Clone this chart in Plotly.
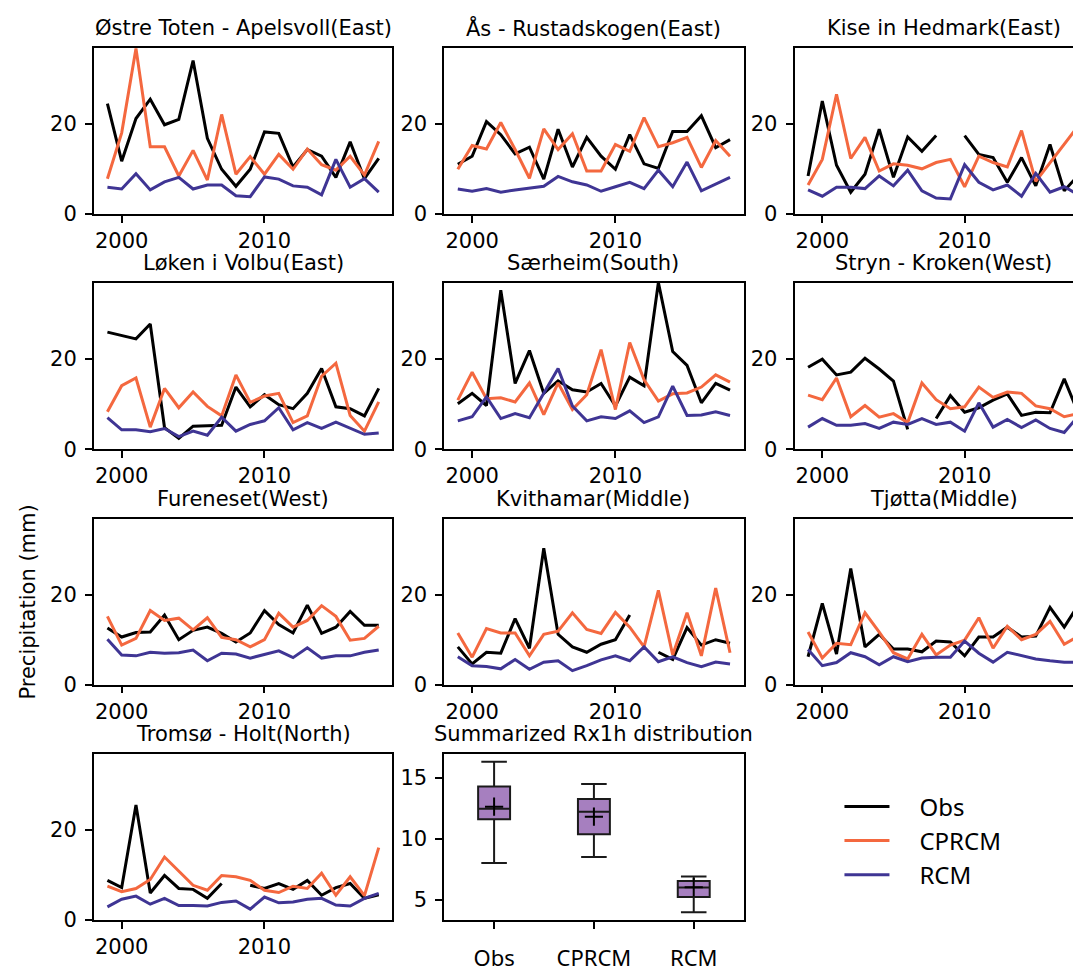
import plotly.graph_objects as go

years = list(range(1999, 2019))
series_names = ["Obs", "CPRCM", "RCM"]
series_colors = ["#000000", "#f4683f", "#3f3594"]

station_titles = [
    "Østre Toten - Apelsvoll(East)", "Ås - Rustadskogen(East)", "Kise in Hedmark(East)",
    "Løken i Volbu(East)", "Særheim(South)", "Stryn - Kroken(West)",
    "Fureneset(West)", "Kvithamar(Middle)", "Tjøtta(Middle)",
    "Tromsø - Holt(North)",
]

obs_apelsvoll = [24.5, 11.7, 21.2, 25.5, 19.8, 21.0, 34.1, 16.8, 9.9, 6.1, 9.9, 18.2, 17.9, 10.4, 14.3, 12.8, 8.1, 16.0, 7.8, 12.3]
cprcm_apelsvoll = [7.8, 18.0, 36.8, 14.9, 14.9, 8.4, 14.1, 7.5, 22.1, 8.8, 12.7, 8.8, 13.2, 9.9, 14.4, 10.9, 9.7, 12.8, 8.6, 16.1]
rcm_apelsvoll = [5.9, 5.5, 8.9, 5.3, 7.1, 8.1, 5.5, 6.4, 6.4, 4.0, 3.8, 8.2, 7.7, 6.2, 5.9, 4.2, 12.1, 5.9, 7.8, 4.8]

obs_rustadskogen = [11.0, 12.8, 20.5, 17.6, 13.3, 14.8, 7.7, 18.8, 10.4, 17.0, 12.8, 9.9, 17.6, 11.1, 10.1, 18.3, 18.3, 21.8, 14.7, 16.5]
cprcm_rustadskogen = [9.9, 15.2, 14.4, 20.3, 14.3, 7.9, 18.9, 14.3, 17.8, 9.5, 9.5, 15.4, 13.9, 21.4, 14.9, 15.8, 17.0, 10.3, 16.3, 12.8]
rcm_rustadskogen = [5.5, 5.0, 5.6, 4.8, 5.3, 5.7, 6.1, 8.3, 7.1, 6.4, 5.0, 6.0, 7.0, 5.6, 9.7, 6.0, 11.5, 5.1, 6.6, 8.1]

obs_kise = [8.4, 25.1, 10.8, 4.8, 8.8, 18.8, 8.1, 17.1, 13.9, 17.4, None, 17.4, 13.2, 12.5, 7.0, 12.5, 6.2, 15.4, 5.1, 8.6]
cprcm_kise = [6.4, 12.1, 26.6, 12.3, 17.0, 9.5, 11.1, 10.8, 10.0, 11.4, 12.1, 6.0, 12.8, 11.4, 10.4, 18.5, 7.2, 11.4, 15.5, 19.6]
rcm_kise = [5.3, 3.9, 5.9, 5.9, 5.6, 8.4, 6.2, 9.7, 5.1, 3.5, 3.3, 10.9, 7.0, 5.3, 6.4, 3.9, 9.0, 4.8, 6.0, 4.2]

obs_volbu = [26.0, 25.3, 24.5, 27.8, 4.8, 2.4, 5.1, 5.2, 5.3, 13.8, 9.4, 12.1, 9.9, 9.0, 12.4, 17.9, 9.4, 9.0, 7.4, 13.5]
cprcm_volbu = [8.3, 14.1, 15.8, 4.9, 13.5, 9.2, 12.7, 9.5, 7.4, 16.5, 10.4, 11.8, 12.4, 5.9, 7.4, 16.2, 19.1, 7.5, 4.0, 10.5]
rcm_volbu = [7.0, 4.3, 4.3, 3.9, 4.6, 2.8, 4.0, 3.1, 7.1, 4.0, 5.5, 6.3, 9.2, 4.3, 5.9, 4.6, 6.0, 4.6, 3.3, 3.6]

obs_saerheim = [10.1, 12.4, 9.7, 35.3, 14.6, 21.9, 12.4, 15.2, 13.2, 12.7, 14.6, 9.6, 16.0, 14.1, 37.0, 21.7, 18.6, 10.3, 14.6, 13.1]
cprcm_saerheim = [10.9, 17.1, 11.2, 11.4, 10.5, 14.7, 7.7, 14.7, 8.8, 12.1, 22.1, 8.8, 23.7, 15.4, 10.7, 12.3, 12.5, 13.8, 16.5, 14.9]
rcm_saerheim = [6.3, 7.2, 11.6, 6.8, 7.9, 7.0, 12.4, 17.9, 9.6, 6.3, 7.2, 6.8, 8.5, 5.9, 7.2, 14.0, 7.5, 7.6, 8.3, 7.5]

obs_stryn = [18.2, 20.0, 16.5, 17.1, 20.2, 17.8, 15.1, 4.4, None, 6.8, 11.9, 8.2, 9.2, 10.9, 12.3, 7.5, 8.2, 8.1, 15.6, 7.9]
cprcm_stryn = [12.0, 11.0, 15.8, 7.2, 9.7, 7.1, 7.9, 5.9, 14.7, 11.0, 9.0, 9.4, 13.8, 11.5, 12.7, 12.4, 9.6, 9.0, 7.2, 7.9]
rcm_stryn = [4.9, 6.8, 5.3, 5.3, 5.7, 4.6, 6.0, 5.5, 6.8, 5.5, 6.0, 4.0, 10.3, 4.9, 6.6, 4.8, 6.5, 4.6, 3.7, 7.4]

obs_fureneset = [12.6, 10.6, 11.6, 11.7, 15.5, 10.0, 12.1, 12.8, 11.4, 9.5, 11.5, 16.5, 13.4, 11.5, 17.7, 11.4, 12.8, 16.3, 13.2, 13.2]
cprcm_fureneset = [15.2, 8.8, 10.3, 16.5, 14.3, 14.8, 12.2, 14.9, 10.5, 10.0, 8.4, 10.0, 15.9, 12.8, 14.3, 17.6, 15.2, 9.9, 10.3, 13.0]
rcm_fureneset = [10.1, 6.6, 6.4, 7.2, 7.0, 7.1, 7.7, 5.3, 7.0, 6.8, 5.9, 6.7, 7.5, 6.0, 8.2, 5.9, 6.4, 6.4, 7.2, 7.7]

obs_kvithamar = [8.4, 4.6, 7.2, 7.0, 14.7, 8.1, 30.4, 11.2, 8.4, 7.2, 9.0, 10.0, 15.5, None, 7.2, 5.6, 12.7, 8.8, 10.0, 9.2]
cprcm_kvithamar = [11.5, 6.1, 12.5, 11.5, 11.5, 6.4, 11.2, 11.9, 16.0, 12.3, 11.4, 16.1, 12.8, 8.4, 21.0, 6.6, 16.0, 6.4, 21.5, 7.1]
rcm_kvithamar = [6.2, 4.2, 4.0, 3.5, 5.6, 3.4, 5.0, 5.3, 3.1, 4.2, 5.5, 6.4, 5.3, 8.4, 5.1, 6.2, 4.9, 4.0, 5.0, 4.6]

obs_tjotta = [6.2, 18.1, 6.8, 25.9, 8.4, 11.2, 7.9, 7.9, 7.3, 9.7, 9.5, 6.4, 10.6, 10.6, 12.8, 10.6, 10.8, 17.2, 12.8, 17.8]
cprcm_tjotta = [11.7, 5.9, 9.2, 8.9, 16.0, 11.7, 7.1, 5.7, 11.2, 6.6, 8.8, 9.9, 14.9, 8.1, 13.0, 10.0, 11.2, 14.1, 9.0, 10.8]
rcm_tjotta = [7.8, 4.2, 4.9, 7.1, 6.2, 4.4, 6.2, 5.1, 5.9, 6.1, 6.1, 9.7, 7.0, 5.0, 7.2, 6.4, 5.7, 5.3, 5.0, 5.0]

obs_tromso = [8.8, 7.2, 25.6, 6.0, 9.9, 7.0, 6.8, 4.8, 8.1, None, 7.7, 7.0, 8.1, 6.8, 8.8, 5.5, 7.2, 8.1, 4.8, 5.6]
cprcm_tromso = [7.5, 6.3, 7.0, 9.0, 14.0, 10.9, 7.7, 6.6, 9.9, 9.6, 8.8, 6.6, 6.1, 7.5, 7.0, 10.4, 5.5, 9.6, 5.4, 16.1]
rcm_tromso = [2.9, 4.6, 5.3, 3.5, 4.8, 3.2, 3.2, 3.1, 3.9, 4.2, 2.4, 5.1, 3.8, 4.0, 4.6, 4.8, 3.3, 3.1, 4.8, 5.9]

station_series = [
    (obs_apelsvoll, cprcm_apelsvoll, rcm_apelsvoll),
    (obs_rustadskogen, cprcm_rustadskogen, rcm_rustadskogen),
    (obs_kise, cprcm_kise, rcm_kise),
    (obs_volbu, cprcm_volbu, rcm_volbu),
    (obs_saerheim, cprcm_saerheim, rcm_saerheim),
    (obs_stryn, cprcm_stryn, rcm_stryn),
    (obs_fureneset, cprcm_fureneset, rcm_fureneset),
    (obs_kvithamar, cprcm_kvithamar, rcm_kvithamar),
    (obs_tjotta, cprcm_tjotta, rcm_tjotta),
    (obs_tromso, cprcm_tromso, rcm_tromso),
]

# Summarized distribution (box statistics)
box_categories = ["Obs", "CPRCM", "RCM"]
box_lower = [8.0, 8.5, 3.95]
box_q1 = [11.6, 10.35, 5.22]
box_median = [12.45, 12.2, 5.98]
box_q3 = [14.27, 13.26, 6.52]
box_upper = [16.3, 14.48, 6.9]
box_mean = [12.62, 11.8, 6.02]

W, H = 1081, 973
col_px = [(86, 385), (437, 737), (788, 1081)]
row_px = [(40, 208.3), (278, 446.7), (517, 685), (755, 923.3)]
x_ranges = [[1998.05, 2018.95], [1998.05, 2018.95], [1998.05, 2018.6]]
FS = 21


def xd(a, b):
    return [a / W, b / W]


def yd(top, bot):
    return [1 - bot / H, 1 - top / H]


fig = go.Figure()
layout = dict(
    width=W, height=H,
    margin=dict(l=0, r=0, t=0, b=0),
    paper_bgcolor="white", plot_bgcolor="white",
    font=dict(family="DejaVu Sans", size=FS, color="black"),
    showlegend=True,
)
annotations = []

axis_common = dict(
    showline=True, mirror=True, linecolor="black", linewidth=1.7,
    ticks="outside", ticklen=7, tickwidth=1.7, tickcolor="black",
    showgrid=False, zeroline=False,
    tickfont=dict(family="DejaVu Sans", size=FS, color="black"),
)

pad = "\u00a0\u00a0\u00a0\u00a0"
for i, (title, series) in enumerate(zip(station_titles, station_series)):
    r, c = divmod(i, 3)
    k = i + 1
    xs = "x" if k == 1 else f"x{k}"
    ys = "y" if k == 1 else f"y{k}"
    xkey = "xaxis" if k == 1 else f"xaxis{k}"
    ykey = "yaxis" if k == 1 else f"yaxis{k}"
    for name, color, vals in zip(series_names, series_colors, series):
        fig.add_trace(go.Scatter(
            x=years, y=vals, mode="lines", name=pad + name,
            line=dict(color=color, width=3),
            xaxis=xs, yaxis=ys, showlegend=(k == 1),
            connectgaps=False,
        ))
    layout[xkey] = dict(axis_common, domain=xd(*col_px[c]), range=x_ranges[c],
                        tickvals=[2000, 2010], anchor=ys)
    layout[ykey] = dict(axis_common, domain=yd(*row_px[r]), range=[0, 37.0],
                        tickvals=[0, 20], anchor=xs, ticklabelstandoff=4)
    cx = (col_px[c][0] + (col_px[c][0] + 299)) / 2
    annotations.append(dict(
        text=title, x=cx / W, y=1 - (row_px[r][0] - 20) / H,
        xref="paper", yref="paper", xanchor="center", yanchor="middle",
        showarrow=False, font=dict(family="DejaVu Sans", size=FS, color="black"),
    ))

# Box panel
fig.add_trace(go.Box(
    x=[1, 2, 3], q1=box_q1, median=box_median, q3=box_q3,
    lowerfence=box_lower, upperfence=box_upper,
    width=0.32, whiskerwidth=0.8,
    fillcolor="#a67fbf", line=dict(color="#1a1a1a", width=2),
    xaxis="x11", yaxis="y11", showlegend=False, boxpoints=False,
))
fig.add_trace(go.Scatter(
    x=[1, 2, 3], y=box_mean, mode="markers",
    marker=dict(symbol="cross-thin", size=13, line=dict(color="black", width=2)),
    xaxis="x11", yaxis="y11", showlegend=False,
))
layout["xaxis11"] = dict(axis_common, domain=xd(*col_px[1]), range=[0.5, 3.5],
                         tickvals=[1, 2, 3], ticktext=box_categories, anchor="y11",
                         ticklabelstandoff=11,
                         tickfont=dict(family="Noto Sans", size=22, color="black"))
layout["yaxis11"] = dict(axis_common, domain=yd(*row_px[3]), range=[3.33, 16.97],
                         tickvals=[5, 10, 15], anchor="x11", ticklabelstandoff=4)
annotations.append(dict(
    text="Summarized Rx1h distribution", x=(437 + 737) / 2 / W, y=1 - (755 - 20) / H,
    xref="paper", yref="paper", xanchor="center", yanchor="middle",
    showarrow=False, font=dict(family="DejaVu Sans", size=FS, color="black"),
))

# y-axis label
annotations.append(dict(
    text="Precipitation (mm)", x=20 / W, y=1 - 601 / H, textangle=-90,
    xref="paper", yref="paper", xanchor="center", yanchor="middle",
    showarrow=False, font=dict(family="DejaVu Sans", size=FS, color="black"),
))

layout["annotations"] = annotations
layout["legend"] = dict(
    x=833 / W, y=1 - 786 / H, xanchor="left", yanchor="top",
    font=dict(family="Noto Sans", size=24, color="black"),
    bgcolor="rgba(0,0,0,0)", borderwidth=0, itemwidth=45,
    tracegroupgap=0,
)
fig.update_layout(**layout)
fig.write_html("out.html")
